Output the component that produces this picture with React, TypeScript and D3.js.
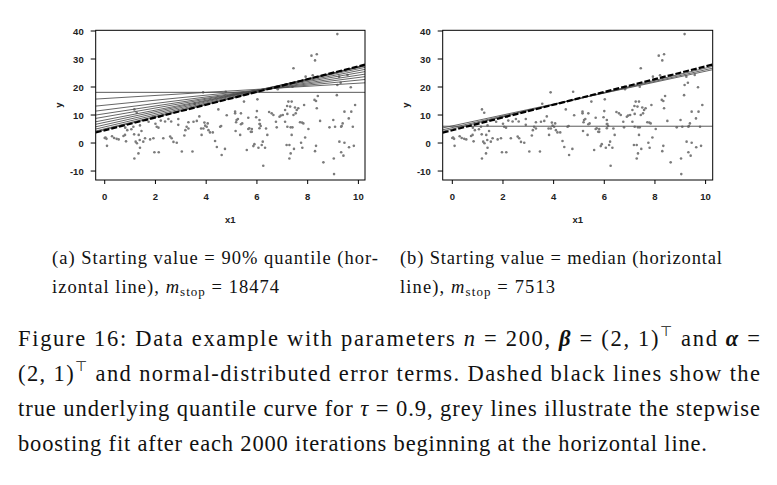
import React from "react";
import * as d3 from "d3";

// ---- data ----
const x1Values: number[] = [
  0.03, 0.07, 0.0, 0.09, 0.29, 0.37, 0.47, 0.55, 0.74, 0.8, 0.81, 0.89, 0.84,
  1.17, 1.26, 1.17, 1.16, 1.13, 1.34, 1.39, 1.33, 1.39, 1.22, 1.27, 1.38, 1.52, 1.59, 1.63, 1.73, 1.79, 1.92, 1.89, 1.98, 1.96,
  2.13, 2.05, 2.12, 2.16, 2.21, 2.31, 2.38, 2.51, 2.58, 2.62, 2.64, 2.71, 2.84, 2.9, 2.9,
  3.04, 3.14, 3.18, 3.23, 3.3, 3.3, 3.46, 3.5, 3.55, 3.63, 3.73, 3.8, 3.88, 3.89, 3.82, 3.93, 3.96,
  4.02, 4.06, 4.09, 4.15, 4.26, 4.35, 4.42, 4.48, 4.55, 4.59, 4.61, 4.74, 4.77, 4.81,
  5.14, 5.14, 5.18, 5.16, 5.2, 5.34, 5.37, 5.42, 5.37, 5.49, 5.6, 5.66, 5.66, 5.76, 5.8, 5.86, 5.9, 5.97, 6.0,
  6.02, 6.06, 6.1, 6.12, 6.15, 6.19, 6.23, 6.25, 6.32, 6.36, 6.41, 6.48, 6.58, 6.65, 6.75, 6.78, 6.81, 6.82, 6.89, 6.94,
  7.02, 7.11, 7.11, 7.17, 7.2, 7.24, 7.28, 7.31, 7.28, 7.33, 7.33, 7.37, 7.37, 7.4, 7.44, 7.44, 7.46, 7.5, 7.53, 7.57, 7.63, 7.7, 7.74, 7.79, 7.83, 7.86, 7.9, 7.92, 7.78, 7.19,
  8.03, 8.15, 8.2, 8.27, 8.29, 8.29, 8.33, 8.33, 8.36, 8.36, 8.4, 8.49, 8.62, 8.86,
  9.01, 9.03, 9.04, 9.08, 9.17, 9.15, 9.17, 9.24, 9.25, 9.3, 9.32, 9.32, 9.34, 9.38, 9.41, 9.45, 9.45, 9.57, 9.62, 9.63, 9.7, 9.72, 9.78, 9.82, 9.87,
  5.7, 5.8, 6.1, 6.1, 7.2, 7.4, 5.25, 2.0, 1.45, 1.05
];
const yValues: number[] = [
  2.0, 1.5, 1.8, -1.0, 2.4, 1.8, 1.5, 1.3, 2.5, 2.9, 5.5, 4.6, 0.6,
  12.0, 10.8, -5.5, 3.1, 5.8, 2.9, 6.3, -3.7, -1.7, 0.5, -0.1, 1.1, 0.5, 1.7, 8.2, 7.6, 1.3, 1.7, 9.2, 9.4, -3.3,
  -3.3, 5.8, 5.5, 9.4, 8.0, 1.7, 7.7, 8.6, 2.3, 7.7, 1.7, 0.4, 0.1, 8.6, 6.5,
  -3.0, 2.7, 4.6, 5.8, 7.4, 5.2, -3.0, 7.6, 14.0, 7.9, 9.5, 5.2, 18.1, 5.2, 2.9, 7.3, 6.2,
  5.8, 7.0, 4.6, 3.8, 3.8, 0.7, -1.4, 12.0, 5.8, 6.1, -4.3, -2.1, 18.3, 9.9,
  11.2, 10.6, 7.4, 4.3, 8.2, 2.9, 6.7, 7.0, 10.6, 14.8, -2.5, 9.0, 5.0, 4.0, 5.0, -1.1, -0.4, 9.2, 11.4,
  15.6, -1.7, 8.2, 6.8, 6.1, -0.7, 0.5, -8.1, -1.7, 5.2, 2.9, 11.1, 10.6, 10.0, 7.6, 5.6, 20.1, 19.2, 9.4, 9.8,
  10.0, 11.8, 7.6, -0.7, 10.4, 14.8, -0.7, 13.0, -5.5, -3.7, 5.6, 14.8, 2.9, 20.1, 10.0, 26.7, -2.1, 12.7, 10.6, 11.8, 12.4, 7.4, 0.1, -1.7, 7.0, 13.6, 2.0, 23.7, 7.3, 13.2,
  5.0, 31.2, 24.2, 15.4, 29.5, -2.9, -1.0, 15.0, 31.7, 12.4, 16.8, 7.9, -6.9, 5.6,
  8.2, -5.5, -11.1, 5.8, 38.9, 17.1, 20.7, 23.7, 0.5, 21.5, 5.8, -3.3, 6.1, 7.0, -4.5, 11.2, 0.1, 24.3, 8.8, -1.5, 19.9, 11.2, 5.8, -1.0, 13.6,
  5.3, 4.0, 6.8, 5.3, 5.8, 5.6, 8.6, 6.9, 4.3, 4.9
];

const xTicks = [0, 2, 4, 6, 8, 10];
const yTicks = [-10, 0, 10, 20, 30, 40];

// true tau = 0.9 quantile line: intercept, slope
const trueLine = { intercept: 4.563, slope: 2.2816 };

// panel (a): start at 90% quantile, fits every 2000 iterations
const startA = 18.1;
const fitInterceptsA = [15.89, 13.51, 11.81, 10.48, 9.35, 8.22, 7.37, 6.52, 5.75, 5.08, 4.7];
const fitSlopesA = [0.547, 0.895, 1.159, 1.376, 1.574, 1.762, 1.913, 2.045, 2.139, 2.215, 2.25];

// panel (b): start at median
const startB = 6.0;
const fitInterceptsB = [6.13, 5.52, 5.02];
const fitSlopesB = [1.951, 2.064, 2.172];

type PanelProps = {
  id: string;
  left: number; right: number; top: number; bottom: number;
  xDom: [number, number]; yDom: [number, number];
  start: number; intercepts: number[]; slopes: number[];
};

function Panel(p: PanelProps) {
  const x = d3.scaleLinear().domain(p.xDom).range([p.left, p.right]);
  const y = d3.scaleLinear().domain(p.yDom).range([p.bottom, p.top]);
  const line = (a: number, b: number) => {
    const gen = d3.line<number>().x((v) => x(v)).y((v) => y(a + b * v));
    return gen(p.xDom) || "";
  };
  const tickFont = "'Liberation Sans', Arial, sans-serif";
  const fs = 9.5;
  return (
    <g>
      <defs>
        <clipPath id={p.id}>
          <rect x={p.left} y={p.top} width={p.right - p.left} height={p.bottom - p.top} />
        </clipPath>
      </defs>
      <g clipPath={`url(#${p.id})`}>
        {x1Values.map((v, i) => (
          <circle key={i} cx={x(v)} cy={y(yValues[i])} r={1.3} fill="#7b7b7b" />
        ))}
        <path d={line(p.start, 0)} stroke="#5a5a5a" strokeWidth={1} fill="none" />
        {p.intercepts.map((a, i) => (
          <path key={i} d={line(a, p.slopes[i])} stroke="#4a4a4a" strokeWidth={0.85} fill="none" />
        ))}
        <path d={line(trueLine.intercept, trueLine.slope)} stroke="#000" strokeWidth={2.2}
          strokeDasharray="6 2" fill="none" />
      </g>
      <rect x={p.left} y={p.top} width={p.right - p.left} height={p.bottom - p.top}
        fill="none" stroke="#000" strokeWidth={1} />
      {xTicks.map((t) => (
        <g key={t}>
          <line x1={x(t)} x2={x(t)} y1={p.bottom} y2={p.bottom + 4} stroke="#000" strokeWidth={1} />
          <text x={x(t)} y={p.bottom + 19.5} fontSize={fs} fontFamily={tickFont} textAnchor="middle"
            fontWeight="bold" fill="#222">{t}</text>
        </g>
      ))}
      {yTicks.map((t) => (
        <g key={t}>
          <line x1={p.left - 5} x2={p.left} y1={y(t)} y2={y(t)} stroke="#000" strokeWidth={1} />
          <text x={p.left - 12} y={y(t) + 3.5} fontSize={fs} fontFamily={tickFont} textAnchor="end"
            fontWeight="bold" fill="#222">{t}</text>
        </g>
      ))}
      <text x={(p.left + p.right) / 2} y={223} fontSize={fs} fontFamily={tickFont} textAnchor="middle"
        fontWeight="bold" fill="#222">x1</text>
      <text transform={`translate(${p.left - 34},${(p.top + p.bottom) / 2}) rotate(-90)`} fontSize={fs}
        fontFamily={tickFont} textAnchor="middle" fontWeight="bold" fill="#222">y</text>
    </g>
  );
}

export default function App() {
  const serif = "'Liberation Serif', 'Times New Roman', serif";
  return (
    <svg width={777} height={485} style={{ position: "absolute", left: 0, top: 0, background: "#fff" }}>
      <rect x={0} y={0} width={777} height={485} fill="#fff" />
      <Panel id="clipA" left={95.7} right={365} top={30.3} bottom={180}
        xDom={[-0.355, 10.26]} yDom={[-13.2, 40.25]}
        start={startA} intercepts={fitInterceptsA} slopes={fitSlopesA} />
      <Panel id="clipB" left={442.7} right={712.7} top={30.3} bottom={180}
        xDom={[-0.38, 10.28]} yDom={[-13.2, 40.25]}
        start={startB} intercepts={fitInterceptsB} slopes={fitSlopesB} />

      <g fontFamily={serif} fill="#111">
        <text x={52} y={264} fontSize={18.5} textLength={326} lengthAdjust="spacing">
          (a) Starting value = 90% quantile (hor-
        </text>
        <text x={52} y={293} fontSize={18.5} textLength={227} lengthAdjust="spacing">
          izontal line), <tspan fontStyle="italic">m</tspan>
          <tspan fontSize={13} dy={3}>stop</tspan>
          <tspan dy={-3}> = 18474</tspan>
        </text>
        <text x={400} y={264} fontSize={18.5} textLength={322} lengthAdjust="spacing">
          (b) Starting value = median (horizontal
        </text>
        <text x={400} y={293} fontSize={18.5} textLength={155} lengthAdjust="spacing">
          line), <tspan fontStyle="italic">m</tspan>
          <tspan fontSize={13} dy={3}>stop</tspan>
          <tspan dy={-3}> = 7513</tspan>
        </text>

        <text x={18} y={346} fontSize={22.5} textLength={742} lengthAdjust="spacing">
          Figure 16: Data example with parameters <tspan fontStyle="italic">n</tspan> = 200,{" "}
          <tspan fontStyle="italic" fontWeight="bold">β</tspan> = (2, 1)
          <tspan fontSize={14} dy={-10}>⊤</tspan>
          <tspan dy={10}> and </tspan>
          <tspan fontStyle="italic" fontWeight="bold">α</tspan> =
        </text>
        <text x={18} y={381} fontSize={22.5} textLength={742} lengthAdjust="spacing">
          (2, 1)<tspan fontSize={14} dy={-10}>⊤</tspan>
          <tspan dy={10}> and normal-distributed error terms.  Dashed black lines show the</tspan>
        </text>
        <text x={18} y={416} fontSize={22.5} textLength={742} lengthAdjust="spacing">
          true underlying quantile curve for <tspan fontStyle="italic">τ</tspan> = 0.9, grey lines illustrate the stepwise
        </text>
        <text x={18} y={451} fontSize={22.5} textLength={689} lengthAdjust="spacing">
          boosting fit after each 2000 iterations beginning at the horizontal line.
        </text>
      </g>
    </svg>
  );
}
